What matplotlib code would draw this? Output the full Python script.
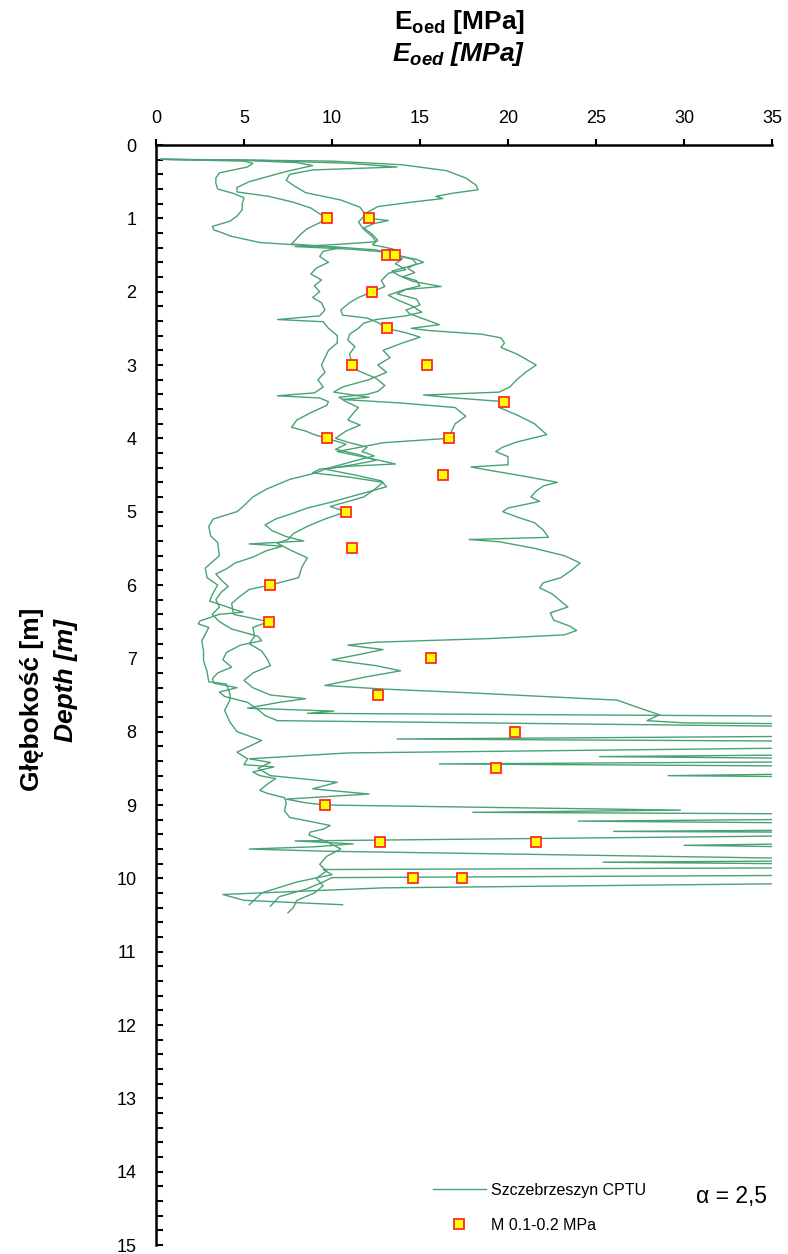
import matplotlib
matplotlib.use("Agg")
import matplotlib.pyplot as plt
from matplotlib.lines import Line2D

plt.rcParams['font.family'] = ['Liberation Sans', 'DejaVu Sans']
plt.rcParams['mathtext.fontset'] = 'custom'
plt.rcParams['mathtext.rm'] = 'Liberation Sans'
plt.rcParams['mathtext.it'] = 'Liberation Sans:italic'
plt.rcParams['mathtext.bf'] = 'Liberation Sans:bold'
plt.rcParams['mathtext.bfit'] = 'Liberation Sans:bold:italic'

# ---------------- data ----------------
depth_t1 = [0.195,0.205,0.22,0.27,0.35,0.45,0.55,0.61,0.66,0.70,0.73,0.78,0.84,0.92,1.00,1.03,1.07,1.13,1.22,1.30,1.36,1.42,1.50,1.56,1.62,1.68,1.74,1.80,1.86,1.93,1.97,2.03,2.10,2.18,2.25,2.30,2.38,2.45,2.50,2.53,2.58,2.63,2.70,2.76,2.85,3.00,3.10,3.20,3.30,3.37,3.41,3.45,3.50,3.58,3.68,3.80,3.95,4.05,4.12,4.18,4.25,4.36,4.39,4.43,4.52,4.60,4.65,4.72,4.80,4.86,4.95,5.00,5.08,5.15,5.25,5.35,5.38,5.41,5.50,5.60,5.70,5.80,5.90,5.97,6.04,6.12,6.22,6.30,6.38,6.48,6.56,6.62,6.68,6.73,6.78,6.82,6.88,6.95,7.02,7.10,7.17,7.25,7.37,7.42,7.47,7.57,7.68,7.77,7.85,7.88,7.91,8.05,8.10,8.14,8.55,8.60,8.63,9.18,9.22,9.26,9.33,9.36,9.38,9.85,9.88,9.95,10.05,10.20,10.36]
eoed_t1 = [0.3,5,10,14,16.5,17.6,18.2,18.3,16.8,15.9,16.3,14.5,12.6,12.0,12.1,13.2,12.4,11.8,12.3,12.6,12.3,13.5,13.6,14.6,14.8,14.3,14.7,14.0,14.6,16.2,14.2,13.7,14.8,15.0,14.2,14.4,15.3,16.1,14.5,15.5,18.5,19.6,19.8,19.6,20.5,21.6,21.0,20.5,20.1,19.5,15.2,17.0,19.8,19.5,20.5,21.5,22.2,20.5,19.7,19.3,20.0,20.0,17.9,18.8,21.0,22.8,22.0,21.6,21.3,21.8,20.0,19.7,20.6,21.5,22.0,22.3,17.8,19.5,21.5,23.2,24.1,23.6,23.0,22.0,21.8,22.5,23.0,23.4,22.4,22.6,23.5,23.9,23.2,19.0,12.5,10.9,12.9,11.5,10.0,12.5,13.9,12.0,9.6,13.0,17.8,26.2,27.5,28.6,27.9,30,45,45,13.7,45,45,29.1,45,45,24,45,45,26,45,45,9.5,10.0,8.0,6.0,5.3]

depth_t2 = [0.195,0.21,0.25,0.30,0.34,0.40,0.48,0.55,0.65,0.75,0.85,0.95,1.05,1.15,1.25,1.32,1.36,1.385,1.42,1.46,1.50,1.55,1.62,1.70,1.75,1.85,1.93,2.00,2.08,2.15,2.25,2.32,2.36,2.42,2.50,2.56,2.62,2.70,2.80,2.90,3.00,3.10,3.20,3.30,3.37,3.44,3.47,3.52,3.58,3.70,3.80,3.90,4.00,4.06,4.13,4.18,4.24,4.30,4.35,4.38,4.42,4.47,4.53,4.60,4.70,4.80,4.93,5.00,5.10,5.20,5.30,5.38,5.43,5.52,5.63,5.75,5.90,6.00,6.06,6.15,6.25,6.40,6.50,6.58,6.70,6.80,6.90,7.00,7.10,7.20,7.30,7.40,7.50,7.55,7.60,7.68,7.72,7.75,7.80,8.20,8.29,8.37,8.42,8.50,8.60,8.69,8.78,8.85,8.92,8.97,9.00,9.07,9.10,9.13,9.40,9.49,9.53,9.57,9.60,9.63,9.76,9.95,9.99,10.05,10.15,10.25,10.38]
eoed_t2 = [0.3,6,11,13.7,8.9,7.6,7.4,7.8,8.5,10.5,11.6,11.9,11.5,11.8,12.3,12.5,10.0,7.9,11,13.1,13.1,14.0,13.6,14.2,13.2,12.8,13.0,12.3,11.5,11.0,10.5,10.6,12.0,12.6,13.1,14.2,15.0,14.0,12.9,13.3,12.6,13.1,12.1,10.6,10.1,12.1,10.6,14,17.0,17.6,17.0,16.8,16.6,12.9,11.4,10.3,11.5,12.7,13.6,11.0,9.3,8.9,11.0,12.9,12.4,11.8,9.9,10.8,9.6,8.6,7.8,7.5,6.9,7.6,8.6,8.3,8.1,6.5,5.3,4.8,4.3,4.4,6.4,5.5,5.6,5.3,6.0,6.3,6.5,5.5,5.0,5.5,6.5,8.5,7.0,5.2,10.1,8.6,45,45,10.9,5.3,6.5,5.8,6.5,10.3,8.9,12.1,7.4,8.5,9.6,29.8,18,45,45,7.9,11.2,9.0,5.3,9.6,45,45,10.0,9.5,8.5,7.0,6.5]

depth_t3 = [0.195,0.22,0.25,0.30,0.38,0.45,0.52,0.60,0.66,0.72,0.80,0.88,0.97,1.04,1.11,1.16,1.20,1.24,1.33,1.37,1.40,1.45,1.52,1.60,1.68,1.76,1.84,1.92,2.00,2.08,2.15,2.25,2.33,2.38,2.41,2.50,2.60,2.70,2.80,2.90,3.00,3.10,3.20,3.30,3.38,3.42,3.45,3.50,3.55,3.65,3.75,3.85,3.90,3.95,4.00,4.08,4.15,4.22,4.30,4.36,4.42,4.50,4.58,4.66,4.72,4.80,4.88,4.95,5.02,5.10,5.18,5.26,5.34,5.40,5.44,5.47,5.53,5.62,5.70,5.78,5.85,5.93,6.02,6.10,6.20,6.30,6.40,6.50,6.60,6.70,6.76,6.82,6.92,7.02,7.12,7.20,7.28,7.34,7.40,7.46,7.52,7.60,7.70,7.78,7.85,7.95,8.30,8.34,8.38,8.40,8.44,8.48,9.50,9.55,9.60,9.75,9.78,9.82,10.05,10.13,10.22,10.30,10.36]
eoed_t3 = [0.3,5.0,5.5,5.2,3.6,3.4,3.4,3.5,4.4,5.0,4.9,4.9,4.6,4.2,3.2,3.3,3.8,4.2,5.9,8.5,10.5,9.5,9.3,9.8,9.1,8.8,9.4,9.0,9.3,8.9,9.4,9.6,9.3,6.9,9.5,9.8,10.3,10.3,9.8,9.6,9.4,9.6,9.2,9.5,9.0,6.9,9.3,9.8,9.7,8.8,8.0,7.7,8.5,9.0,9.7,10.8,10.2,11.5,12.5,11.2,9.6,11.3,12.8,13.1,12.2,11.0,9.8,8.6,7.8,6.8,6.2,6.6,7.4,8.4,5.3,7.2,6.3,5.5,4.5,4.0,3.4,3.7,4.1,3.7,3.4,3.6,3.2,3.6,4.3,5.8,6.0,4.8,4.0,3.8,4.3,3.5,3.2,3.3,4.6,3.6,3.9,5.2,5.8,6.2,6.9,45,45,25.2,45,45,16.1,45,45,30,45,45,25.4,45,45,12.9,3.8,5.0,10.6]

depth_t4 = [0.195,0.21,0.24,0.28,0.35,0.42,0.50,0.58,0.64,0.70,0.78,0.86,0.94,1.00,1.06,1.14,1.22,1.30,1.35,1.38,1.43,1.50,1.56,1.60,1.66,1.72,1.78,1.85,1.92,1.98,2.05,2.12,2.20,2.28,2.33,2.38,2.43,2.50,2.58,2.66,2.75,2.85,2.95,3.00,3.08,3.18,3.28,3.36,3.40,3.44,3.50,3.58,3.66,3.75,3.82,3.90,4.00,4.06,4.12,4.18,4.24,4.30,4.36,4.42,4.47,4.56,4.69,4.80,4.93,5.00,5.10,5.20,5.33,5.42,5.60,5.77,5.90,6.00,6.13,6.22,6.27,6.33,6.37,6.40,6.49,6.53,6.58,6.76,6.90,7.03,7.18,7.32,7.35,7.48,7.57,7.71,7.87,8.00,8.12,8.28,8.37,8.45,8.48,8.55,8.60,8.64,8.72,8.80,8.84,8.90,8.97,9.08,9.17,9.24,9.28,9.33,9.37,9.41,9.50,9.60,9.70,9.81,9.90,10.00,10.10,10.20,10.30,10.40,10.47]
eoed_t4 = [0.3,5,8.0,8.9,7.6,6.5,5.3,4.6,4.6,6.4,7.8,8.8,9.3,9.7,9.3,8.6,8.2,7.9,7.7,9.5,12.5,13.6,14.8,15.2,14.3,13.4,13.8,14.8,15.0,14.0,13.2,13.8,14.6,15.1,14.2,12.5,11.8,11.5,11.0,10.9,11.3,11.0,11.1,11.1,11.5,12.5,13.0,12.6,12.0,10.4,10.8,11.5,11.2,10.9,11.6,10.8,10.2,11.0,12.0,11.7,12.4,11.4,10.5,9.6,9.1,7.6,6.3,5.5,4.95,4.6,3.25,3.0,3.1,3.5,3.6,2.8,2.9,3.5,3.2,3.05,3.7,4.4,4.95,3.6,2.5,2.4,3.0,2.6,2.7,2.7,2.9,3.0,4.0,4.2,4.2,3.9,4.2,4.6,6.0,4.6,5.2,5.0,6.7,5.5,5.9,6.8,6.3,5.9,6.3,7.3,7.4,7.3,7.6,9.1,9.9,9.5,8.75,8.7,9.7,10.5,9.7,9.3,9.7,9.1,9.5,9.0,8.0,7.8,7.5]

lab_depth = [1.0,1.0,1.5,1.5,2.0,2.5,3.0,3.0,3.5,4.0,4.0,4.5,5.0,5.5,6.0,6.5,7.0,7.5,8.0,8.5,9.0,9.5,9.5,10.0,10.0]
lab_eoed = [9.7,12.1,13.1,13.6,12.3,13.1,11.15,15.4,19.8,9.7,16.65,16.3,10.8,11.15,6.5,6.4,15.6,12.6,20.4,19.3,9.6,12.7,21.6,14.6,17.4]

x_ticks = [0, 5, 10, 15, 20, 25, 30, 35]
y_ticks = list(range(0, 16))

traces = [(depth_t1, eoed_t1), (depth_t2, eoed_t2), (depth_t3, eoed_t3), (depth_t4, eoed_t4)]

# ---------------- figure ----------------
W, H = 788, 1254
fig = plt.figure(figsize=(W / 100, H / 100), dpi=100)
ax = fig.add_axes([156 / W, 1 - 1245 / H, (772 - 156) / W, (1245 - 145) / H])

green = '#48A274'
for d, e in traces:
    ax.plot(e, d, color=green, lw=1.0, solid_joinstyle='round')

ax.plot(lab_eoed, lab_depth, ls='none', marker='s', ms=7.8, mfc='#FFFF00',
        mec='#FF2A2A', mew=1.3, zorder=5)

ax.set_xlim(0, 35)
ax.set_ylim(15, 0)
ax.xaxis.tick_top()
ax.set_xticks(x_ticks)
ax.set_yticks(y_ticks)
ax.set_yticks([i * 0.2 for i in range(76)], minor=True)
ax.tick_params(axis='x', which='major', direction='out', length=4, width=1.5,
               labelsize=13, pad=9, top=True, bottom=False)
ax.tick_params(axis='y', which='both', direction='in', length=5, width=1.5,
               labelsize=13, pad=14)
for s in ['right', 'bottom']:
    ax.spines[s].set_visible(False)
for s in ['left', 'top']:
    ax.spines[s].set_linewidth(1.8)

# axis titles
fig.text(459 / W, 1 - 22 / H, r'$\mathbf{E_{oed}}$ [MPa]', ha='center', va='center',
         fontsize=19, fontweight='bold')
fig.text(459 / W, 1 - 54 / H, r'$\mathbfit{E_{oed}}$ [MPa]', ha='center', va='center',
         fontsize=19, fontweight='bold', fontstyle='italic')
fig.text(32 / W, 1 - 699 / H, 'Głębokość [m]', rotation=90, ha='center', va='center',
         fontsize=19, fontweight='bold')
fig.text(66 / W, 1 - 680 / H, 'Depth [m]', rotation=90, ha='center', va='center',
         fontsize=19, fontweight='bold', fontstyle='italic')

# legend
handles = [Line2D([], [], color=green, lw=1.0),
           Line2D([], [], ls='none', marker='s', ms=6.5, mfc='#FFFF00', mec='#FF2A2A', mew=1.3)]
fig.legend(handles, ['Szczebrzeszyn CPTU', 'M 0.1-0.2 MPa'], loc='upper left',
           bbox_to_anchor=(433 / W, 1 - 1183 / H), frameon=False, fontsize=11.5,
           handlelength=3.3, handletextpad=0.35, labelspacing=1.25, borderpad=0,
           borderaxespad=0)

fig.text(731 / W, 1 - 1196 / H, 'α = 2,5', ha='center', va='center', fontsize=16.5)

fig.savefig('out.png', dpi=100)
